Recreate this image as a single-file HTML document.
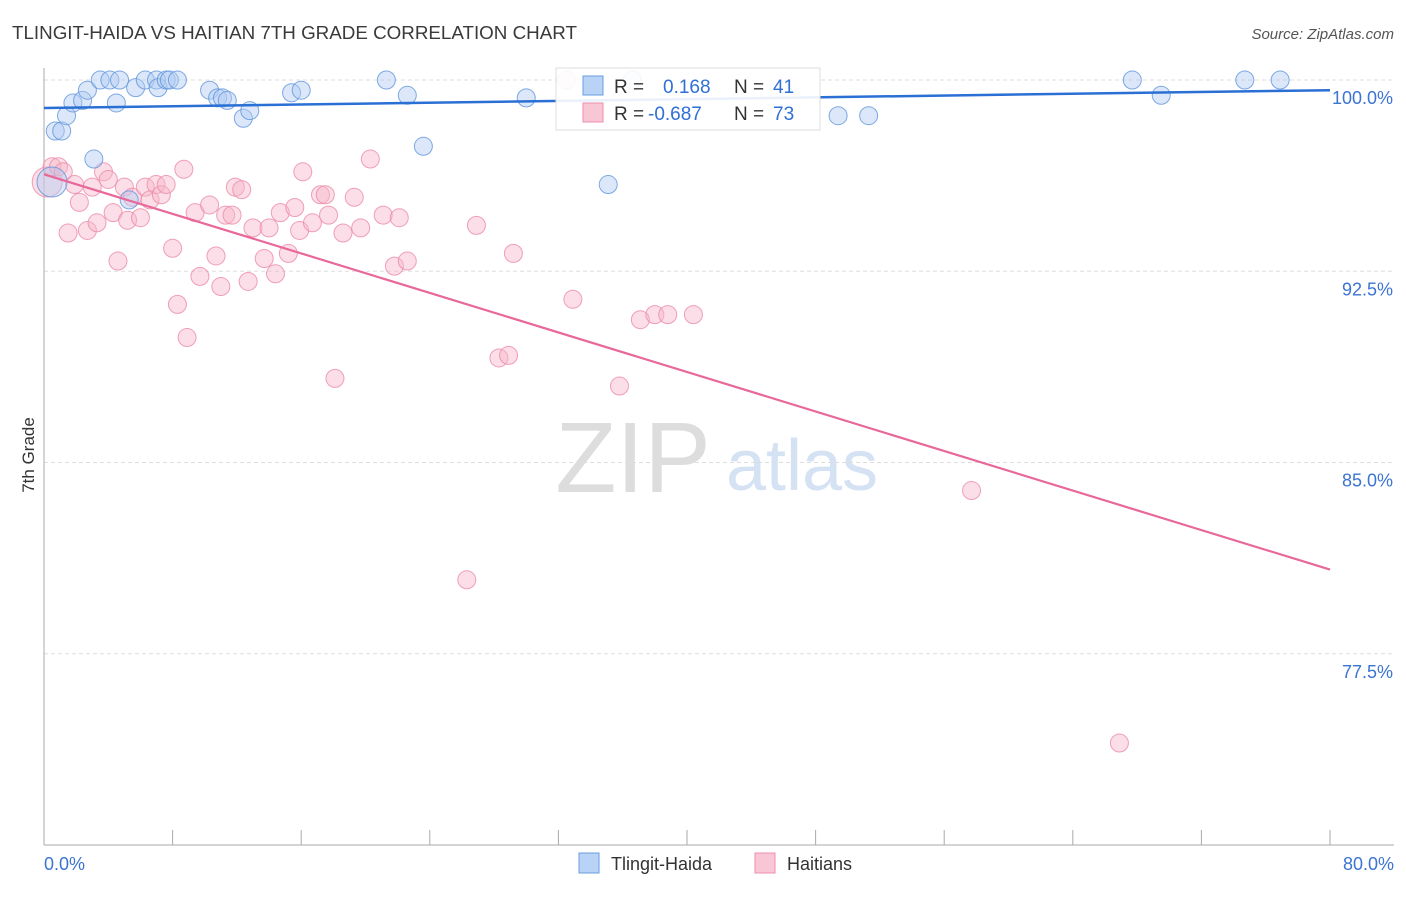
<!DOCTYPE html>
<html><head><meta charset="utf-8"><style>
body{margin:0;background:#fff;font-family:"Liberation Sans",sans-serif;}
svg text{font-family:"Liberation Sans",sans-serif;}
</style></head><body>
<svg id="chart" width="1406" height="892" xmlns="http://www.w3.org/2000/svg">
<text x="12" y="39" font-size="18.8" fill="#3a3a3a">TLINGIT-HAIDA VS HAITIAN 7TH GRADE CORRELATION CHART</text>
<text x="1394" y="39" font-size="15" fill="#555" text-anchor="end" font-style="italic">Source: ZipAtlas.com</text>
<text transform="translate(34,455) rotate(-90)" font-size="17" fill="#333" text-anchor="middle">7th Grade</text>
<g>
<text x="633" y="492" font-size="100" fill="#ddd" text-anchor="middle" font-family="Liberation Serif">ZIP</text>
<text x="802" y="490" font-size="72" fill="#d4e2f4" text-anchor="middle">atlas</text>
</g>
<g id="grid"></g><g id="axes"></g><g id="pts"></g><g id="lines"></g>
<g>
<rect x="556" y="68" width="264" height="62" fill="#fff" fill-opacity="0.9" stroke="#ddd"/>
<rect x="583" y="76" width="20" height="19" fill="#b8d3f5" stroke="#6a9ee0"/>
<rect x="583" y="103" width="20" height="19" fill="#f9c6d5" stroke="#ee8fac"/>
<text x="614" y="93" font-size="19" fill="#333">R =</text>
<text x="663" y="93" font-size="19" fill="#2f6fd6">0.168</text>
<text x="734" y="93" font-size="19" fill="#333">N =</text>
<text x="773" y="93" font-size="19" fill="#2f6fd6">41</text>
<text x="614" y="120" font-size="19" fill="#333">R =</text>
<text x="648" y="120" font-size="19" fill="#2f6fd6">-0.687</text>
<text x="734" y="120" font-size="19" fill="#333">N =</text>
<text x="773" y="120" font-size="19" fill="#2f6fd6">73</text>
</g>
<g>
<rect x="579" y="853" width="20" height="20" fill="#b8d3f5" stroke="#6a9ee0"/>
<text x="611" y="870" font-size="18" fill="#333">Tlingit-Haida</text>
<rect x="755" y="853" width="20" height="20" fill="#f9c6d5" stroke="#ee8fac"/>
<text x="787" y="870" font-size="18" fill="#333">Haitians</text>
</g>
</svg>
<script>
const yTicks=[100,92.5,85,77.5];
const yTickLabels=["100.0%","92.5%","85.0%","77.5%"];
const xEndLabels=["0.0%","80.0%"];
const blueX=[0.5,0.7,1.1,1.4,1.8,2.4,2.7,3.1,3.5,4.1,4.5,4.7,5.3,5.7,6.3,7.0,7.1,7.6,7.8,8.3,10.3,10.8,11.1,11.4,12.4,12.8,15.4,16.0,21.3,22.6,23.6,30.0,35.1,36.6,49.4,51.3,67.7,69.5,74.7,76.9];
const blueY=[96.0,98.0,98.0,98.6,99.1,99.2,99.6,96.9,100.0,100.0,99.1,100.0,95.3,99.7,100.0,100.0,99.7,100.0,100.0,100.0,99.6,99.3,99.3,99.2,98.5,98.8,99.5,99.6,100.0,99.4,97.4,99.3,95.9,100.0,98.6,98.6,100.0,99.4,100.0,100.0];
const pinkX=[0.2,0.5,0.9,1.2,1.5,1.9,2.2,2.7,3.0,3.3,3.7,4.0,4.3,4.6,5.0,5.2,5.5,6.0,6.3,6.6,6.97,7.3,7.6,8.0,8.3,8.7,8.9,9.4,9.7,10.3,10.7,11.0,11.3,11.7,11.9,12.3,12.7,13.0,13.7,14.0,14.4,14.7,15.2,15.6,15.9,16.1,16.7,17.2,17.5,17.7,18.1,18.6,19.3,19.7,20.3,21.1,21.8,22.1,22.6,26.9,26.3,28.3,28.9,29.2,32.5,32.9,35.8,37.1,38.0,38.8,40.4,57.7,66.9];
const pinkY=[96.0,96.6,96.6,96.4,94.0,95.9,95.2,94.1,95.8,94.4,96.4,96.1,94.8,92.9,95.8,94.5,95.4,94.6,95.8,95.3,95.9,95.5,95.9,93.4,91.2,96.5,89.9,94.8,92.3,95.1,93.1,91.9,94.7,94.7,95.8,95.7,92.1,94.2,93.0,94.2,92.4,94.8,93.2,95.0,94.1,96.4,94.4,95.5,95.5,94.7,88.3,94.0,95.4,94.2,96.9,94.7,92.7,94.6,92.9,94.3,80.4,89.1,89.2,93.2,100.0,91.4,88.0,90.6,90.8,90.8,90.8,83.9,74.0];
const blueTrend=[98.9,99.6];
const pinkTrend=[96.3,80.8];
const NS="http://www.w3.org/2000/svg";
const X=v=>44+v*16.075, Y=v=>80+(100-v)*25.5;
function mk(tag,attrs,parent){const e=document.createElementNS(NS,tag);for(const k in attrs)e.setAttribute(k,attrs[k]);document.getElementById(parent).appendChild(e);return e;}
yTicks.forEach((t,i)=>{
 const l=mk('line',{x1:44,x2:1394,y1:Y(t),y2:Y(t),stroke:'#ddd','stroke-dasharray':'4,3'},'grid');
 
 
 const tx=mk('text',{x:1393,y:Y(t)+24,'font-size':18,fill:'#3b74d1','text-anchor':'end'},'grid');
 tx.textContent=yTickLabels[i];
 
 
});
const ya=mk('line',{x1:44,x2:44,y1:68,y2:845,stroke:'#aaa'},'axes');


const xa=mk('line',{x1:44,x2:1394,y1:845,y2:845,stroke:'#aaa'},'axes');


for(let i=0;i<=10;i++){
 const t=mk('line',{x1:X(i*8),x2:X(i*8),y1:830,y2:845,stroke:'#aaa'},'axes');
 
 
}
[[0,'start',xEndLabels[0]],[80,'end',xEndLabels[1]]].forEach(([v,a,s])=>{
 const t=mk('text',{x:v==0?44:1394,y:870,'font-size':18,fill:'#3b74d1','text-anchor':a},'axes');
 t.textContent=s;
 
 
});
function pts(xs,ys,fill,stroke,name){xs.forEach((x,i)=>{
 const c=mk('circle',{cx:X(x),cy:Y(ys[i]),r:i==0?15:9,fill:fill,'fill-opacity':0.45,stroke:stroke,'stroke-opacity':0.8,'stroke-width':1},'pts');
 
 
});}
pts(pinkX,pinkY,'#f6b6c9','#ec8aa8','haitians-point');
pts(blueX,blueY,'#b1cdf2','#5f95dc','tlingit-haida-point');
const bl=mk('line',{x1:X(0),y1:Y(blueTrend[0]),x2:X(80),y2:Y(blueTrend[1]),stroke:'#2a6fd4','stroke-width':2.5},'lines');


const pl=mk('line',{x1:X(0),y1:Y(pinkTrend[0]),x2:X(80),y2:Y(pinkTrend[1]),stroke:'#e8689a','stroke-width':2.2},'lines');


</script>
</body></html>
